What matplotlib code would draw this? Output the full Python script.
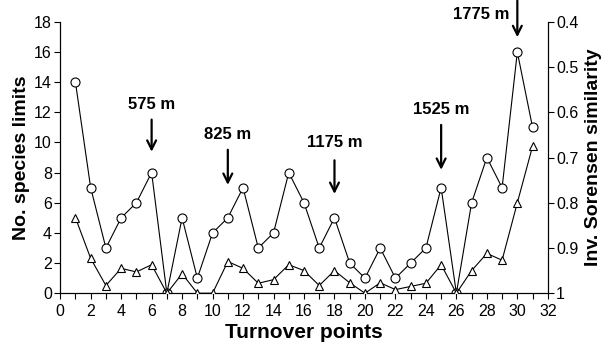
import matplotlib.pyplot as plt
import matplotlib.ticker as ticker

plt.rcParams['font.family'] = ['Liberation Sans', 'DejaVu Sans']

# Data
turnover = list(range(1, 32))
species_limits = [14, 7, 3, 5, 6, 8, 0, 5, 1, 4, 5, 7, 3, 4, 8, 6, 3, 5, 2, 1,
                  3, 1, 2, 3, 7, 0, 6, 9, 7, 16, 11]
inv_sorensen = [0.833, 0.923, 0.983, 0.945, 0.953, 0.937, 1.0, 0.957, 1.0, 1.0,
                0.930, 0.945, 0.978, 0.970, 0.937, 0.950, 0.983, 0.950, 0.977, 1.0,
                0.977, 0.992, 0.985, 0.978, 0.937, 1.0, 0.950, 0.912, 0.927, 0.800,
                0.675]

# Elevation markers: label, turnover point, label y, arrow start, arrow tip (left axis units)
markers = [
    ('575 m', 6, 12.5, 11.7, 9.2),
    ('825 m', 11, 10.5, 9.7, 7.0),
    ('1175 m', 18, 10.0, 9.0, 6.4),
    ('1525 m', 25, 12.2, 11.35, 8.0),
]

fig, ax = plt.subplots(figsize=(6.08, 3.47), dpi=100)
fig.subplots_adjust(left=0.099, right=0.901, top=0.937, bottom=0.155)

ax.plot(turnover, species_limits, color='black', linewidth=0.8, marker='o',
        markersize=6.5, markerfacecolor='white', markeredgecolor='black',
        markeredgewidth=0.8, zorder=3)

ax2 = ax.twinx()
ax2.plot(turnover, inv_sorensen, color='black', linewidth=0.8, marker='^',
         markersize=5.5, markerfacecolor='white', markeredgecolor='black',
         markeredgewidth=0.8, zorder=3)

ax.set_xlim(0, 32)
ax.set_ylim(0, 18)
ax2.set_ylim(1.0, 0.4)

ax.xaxis.set_major_locator(ticker.MultipleLocator(2))
ax.xaxis.set_minor_locator(ticker.MultipleLocator(1))
ax.yaxis.set_major_locator(ticker.MultipleLocator(2))
ax2.yaxis.set_major_locator(ticker.MultipleLocator(0.1))
ax2.yaxis.set_major_formatter(ticker.FuncFormatter(
    lambda v, p: '1' if abs(v - 1) < 1e-6 else f'{v:.1f}'))

for a in (ax, ax2):
    a.spines['top'].set_visible(False)
    for s in a.spines.values():
        s.set_linewidth(0.8)
    a.tick_params(which='both', direction='out', width=0.8, labelsize=11.5, pad=2)
    a.tick_params(which='major', length=4)
    a.tick_params(which='minor', length=4)
ax.tick_params(axis='x', pad=4)

ax.set_xlabel('Turnover points', fontsize=15, fontweight='bold', labelpad=3)
ax.set_ylabel('No. species limits', fontsize=14, fontweight='bold', labelpad=3)
ax2.set_ylabel('Inv. Sorensen similarity', fontsize=14, fontweight='bold', labelpad=5)

arrow_style = dict(arrowstyle='->', color='black', lw=1.6, mutation_scale=16)

for label, xp, ly, y0, y1 in markers:
    ax.text(xp, ly, label, ha='center', va='center', fontsize=12, fontweight='bold')
    ax.annotate('', xy=(xp, y1), xytext=(xp, y0), arrowprops=arrow_style)

ax.text(29.5, 18.5, '1775 m', ha='right', va='center', fontsize=12,
        fontweight='bold', clip_on=False)
ax.annotate('', xy=(30, 16.8), xytext=(30, 19.6), arrowprops=arrow_style,
            annotation_clip=False)

plt.savefig('out.png', dpi=100, facecolor='white')
